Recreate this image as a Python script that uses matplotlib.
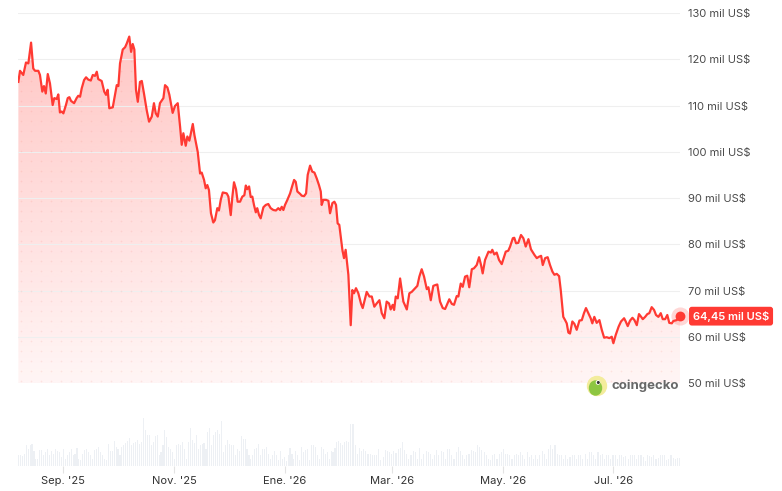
import datetime as dt
import numpy as np
import matplotlib
matplotlib.use('Agg')
import matplotlib.pyplot as plt
import matplotlib.dates as mdates
from matplotlib.patches import Circle, Ellipse

plt.rcParams['font.family'] = ['Inter', 'DejaVu Sans']

# datos (dias desde el 7 ago 2025, precio en miles de US$)
inicio = dt.datetime(2025, 8, 7)
dias = [0.2, 1.1, 2.9, 4.4, 5.7, 7.2, 8.4, 9.4, 11.2, 12.1, 13.4, 14.3, 15.3, 16.4, 17.6,
        19.1, 20.0, 21.3, 22.2, 23.1, 24.1, 25.0, 26.4, 27.4, 28.3, 29.2, 30.9, 32.3, 33.2,
        34.2, 35.1, 36.4, 37.5, 38.7, 40.1, 41.2, 42.4, 43.4, 44.2, 46.1, 47.5, 48.5, 49.4,
        50.3, 52.2, 53.1, 54.4, 55.3, 56.2, 57.7, 59.0, 59.9, 61.3, 62.3, 63.2, 64.1, 65.0,
        66.0, 67.2, 68.2, 69.4, 70.9, 72.2, 73.7, 74.9, 75.9, 77.0, 78.2, 80.1, 81.0, 82.3,
        83.4, 85.2, 86.5, 88.0, 89.3, 90.2, 91.1, 92.4, 93.3, 94.4, 96.3, 97.2, 99.0, 100.3,
        101.2, 102.5, 103.4, 104.3, 105.2, 106.3, 107.6, 108.5, 109.8, 110.7, 111.7, 112.8,
        115.0, 115.9, 117.2, 118.1, 119.0, 120.1, 121.0, 122.3, 123.6, 124.7, 125.5, 126.3,
        127.3, 128.2, 129.1, 130.0, 131.0, 131.8, 132.8, 133.7, 135.2, 136.5, 137.9, 139.2,
        140.7, 142.1, 143.4, 144.4, 145.3, 146.2, 147.1, 148.4, 149.9, 151.0, 152.1, 153.0,
        153.9, 155.4, 156.3, 157.6, 158.7, 159.6, 160.9, 162.1, 163.3, 164.6, 165.8, 166.8,
        167.3, 168.2, 169.7, 171.0, 171.9, 173.2, 174.3, 175.2, 176.1, 177.0, 178.7, 179.6,
        180.5, 182.0, 183.3, 184.2, 185.1, 186.2, 187.5, 189.0, 189.9, 192.1, 193.6, 194.9,
        196.3, 197.6, 199.1, 200.4, 201.8, 203.1, 204.4, 205.3, 206.4, 207.2, 208.1, 209.2,
        210.5, 211.4, 212.3, 214.2, 215.6, 216.9, 218.3, 220.0, 221.1, 222.4, 223.7, 225.2,
        226.1, 227.4, 228.8, 230.1, 231.0, 232.5, 234.0, 235.3, 236.5, 237.6, 239.0, 240.2,
        241.7, 242.6, 243.9, 245.0, 246.3, 247.5, 248.6, 250.0, 251.2, 252.7, 254.0, 255.1,
        256.0, 257.3, 259.2, 260.5, 261.3, 262.4, 263.7, 265.0, 266.5, 267.8, 268.7, 270.1,
        271.1, 272.6, 273.4, 274.4, 275.6, 277.1, 278.4, 279.7, 281.2, 282.6, 284.5, 285.8,
        287.0, 288.2, 289.1, 290.4, 291.8, 293.1, 294.4, 295.5, 296.8, 298.1, 299.0, 300.4,
        301.4, 302.3, 303.2, 304.1, 305.4, 306.5, 307.8, 309.3, 310.6, 311.8, 312.9, 314.2,
        315.5, 316.4, 317.5, 318.8, 320.3, 321.6, 322.9, 324.3, 325.8, 327.1, 328.0, 329.3,
        330.9, 332.2, 333.9, 334.8, 335.9, 337.2, 338.5, 339.6, 340.9, 342.1, 343.3, 344.2,
        345.5, 346.7, 347.8, 349.1, 350.4, 351.5, 352.8, 354.1, 355.2, 356.5, 357.7, 358.8,
        360.2, 361.0, 362.9, 364.7]
precio = [115.1, 117.5, 116.6, 119.3, 119.1, 123.6, 118.0, 117.5, 117.5, 116.6, 113.0, 114.2,
          112.6, 116.8, 114.8, 110.1, 111.6, 111.4, 112.4, 108.5, 108.7, 108.3, 110.1, 111.6,
          111.8, 111.0, 110.5, 111.6, 112.1, 111.9, 113.7, 115.5, 116.1, 115.6, 115.4, 116.6,
          116.4, 117.3, 115.7, 115.3, 113.0, 112.3, 113.4, 109.4, 109.6, 111.6, 114.4, 114.2,
          119.1, 122.1, 122.6, 123.4, 124.9, 121.6, 123.3, 122.1, 113.4, 110.8, 115.1, 115.3,
          112.6, 109.0, 106.5, 107.6, 110.5, 108.3, 107.6, 110.5, 111.6, 114.4, 113.9, 112.3,
          108.4, 109.9, 110.5, 105.4, 101.5, 104.0, 101.3, 103.3, 102.4, 106.0, 103.6, 100.0,
          95.3, 95.5, 93.9, 92.1, 92.8, 91.7, 86.7, 84.7, 85.2, 87.8, 87.3, 89.6, 91.2, 91.0,
          90.3, 86.3, 90.3, 93.4, 91.9, 89.2, 89.2, 90.3, 90.6, 92.7, 91.9, 92.5, 90.2, 90.3,
          88.5, 86.9, 87.8, 86.3, 85.6, 88.0, 88.5, 88.7, 87.8, 87.4, 87.3, 87.8, 87.4, 88.1,
          87.4, 88.5, 89.6, 91.0, 92.5, 93.9, 93.5, 91.4, 90.9, 90.5, 90.4, 91.0, 95.0, 97.0,
          95.7, 95.5, 94.2, 92.8, 91.4, 88.5, 89.6, 89.6, 89.4, 86.7, 88.9, 89.2, 88.5, 84.5,
          84.2, 78.8, 77.0, 78.8, 73.4, 62.5, 70.1, 69.4, 70.5, 69.4, 67.1, 66.2, 69.7, 68.7,
          68.7, 66.5, 67.2, 67.9, 65.1, 64.0, 67.6, 67.2, 65.9, 66.9, 65.8, 68.7, 68.3, 72.6,
          70.1, 67.6, 65.9, 69.4, 69.7, 70.3, 71.0, 73.0, 74.6, 73.0, 70.3, 70.7, 67.9, 71.0,
          71.2, 71.3, 67.6, 66.2, 66.0, 67.1, 68.1, 67.1, 66.9, 68.8, 68.7, 71.5, 70.8, 73.0,
          73.2, 70.7, 74.6, 74.8, 75.5, 77.2, 75.5, 73.7, 76.6, 78.4, 78.2, 78.8, 77.8, 78.2,
          76.6, 75.7, 77.3, 78.4, 78.6, 79.5, 81.3, 81.4, 80.2, 80.3, 82.0, 81.3, 79.5, 81.1,
          78.9, 77.7, 77.0, 77.3, 77.5, 75.5, 77.0, 77.2, 75.5, 74.1, 73.4, 73.6, 73.1, 70.1,
          64.3, 63.6, 62.9, 60.9, 60.7, 63.3, 62.8, 61.5, 63.5, 63.6, 65.1, 66.2, 65.1, 64.0,
          62.9, 64.3, 63.0, 63.6, 61.5, 59.8, 59.9, 59.7, 60.0, 58.6, 60.4, 62.2, 63.3, 64.0,
          63.3, 62.3, 63.5, 64.1, 63.6, 62.5, 64.9, 64.3, 63.8, 64.3, 64.9, 65.1, 66.4, 65.8,
          64.7, 64.3, 65.1, 63.8, 63.8, 64.7, 63.0, 62.9, 63.4, 63.6, 64.45]

# volumen (miles de millones US$), primera y segunda mitad del periodo
vol_a = [32, 34, 30, 37, 62, 52, 64, 67, 44, 22, 22, 47, 47, 32, 42, 50, 34, 44, 37, 52, 44, 42,
         27, 50, 22, 32, 42, 50, 32, 37, 54, 22, 17, 37, 47, 52, 42, 32, 22, 47, 52, 57, 42, 32,
         22, 17, 67, 44, 44, 74, 57, 52, 32, 57, 62, 70, 74, 84, 62, 70, 72, 77, 67, 72, 144, 107,
         94, 92, 62, 72, 90, 94, 32, 42, 62, 107, 87, 57, 50, 42, 22, 62, 67, 64, 72, 52, 22, 72,
         114, 77, 70, 94, 52, 62, 67, 70, 52, 102, 114, 62, 94, 102, 107, 97, 134, 42, 62, 77, 67,
         64, 62, 32, 52, 44, 90, 82, 82, 52, 32, 22, 32, 52, 54, 67, 34, 52, 52, 57, 37, 22, 32,
         44, 32, 17, 44, 22, 27, 14, 32, 54, 37, 22, 44, 32, 17, 57, 42, 47, 52, 17, 62, 62, 57,
         34, 22, 57, 52, 37, 42, 22, 44, 42, 54, 72, 74, 70, 64, 72]
vol_b = [74, 72, 127, 127, 64, 37, 54, 44, 52, 44, 37, 37, 34, 32, 32, 50, 17, 27, 47, 44, 42, 37,
         44, 40, 52, 54, 72, 47, 37, 22, 32, 44, 42, 22, 54, 22, 37, 44, 42, 37, 22, 32, 47, 32,
         44, 42, 22, 52, 50, 32, 22, 42, 57, 44, 34, 22, 32, 37, 47, 44, 42, 62, 57, 47, 42, 34,
         22, 17, 32, 37, 22, 37, 42, 52, 37, 37, 32, 22, 32, 37, 32, 42, 32, 22, 42, 27, 32, 22,
         32, 22, 34, 44, 37, 22, 50, 62, 52, 62, 37, 32, 32, 22, 32, 22, 27, 32, 34, 22, 32, 32,
         22, 37, 22, 42, 42, 32, 22, 42, 34, 37, 22, 32, 34, 22, 34, 32, 22, 34, 32, 27, 30, 22,
         32, 32, 32, 22, 34, 32, 27, 14, 32, 30, 27, 32, 22, 24, 32, 32, 32, 17, 22, 32, 24, 22,
         24, 24]

meses = [dt.datetime(2025, 9, 1), dt.datetime(2025, 11, 1), dt.datetime(2026, 1, 1),
         dt.datetime(2026, 3, 1), dt.datetime(2026, 5, 1), dt.datetime(2026, 7, 1)]
etiquetas_meses = ["Sep. '25", "Nov. '25", "Ene. '26", "Mar. '26", "May. '26", "Jul. '26"]
niveles = [50, 60, 70, 80, 90, 100, 110, 120, 130]
etiquetas_niveles = [f'{n} mil US$' for n in niveles]
ultimo = '64,45 mil US$'

rojo = '#ff3a33'
W, H = 782, 491
t0 = mdates.date2num(inicio)
x = t0 + np.array(dias)
xmin, xmax = t0, t0 + 364.7

fig = plt.figure(figsize=(W / 100, H / 100), dpi=100)
ax = fig.add_axes([18 / W, 108 / H, 662 / W, 370 / H])

# relleno con degradado
poly = ax.fill_between(x, precio, 50, facecolor='none', edgecolor='none')
camino = poly.get_paths()[0]
grad = np.zeros((256, 1, 4))
grad[..., :3] = matplotlib.colors.to_rgb(rojo)
grad[..., 3] = np.linspace(0.30, 0.05, 256).reshape(-1, 1)
im = ax.imshow(grad, extent=[xmin, xmax, 50, 130], aspect='auto', origin='upper', zorder=1)
im.set_clip_path(camino, transform=ax.transData)

# trama de puntos
xs = np.arange(xmin + 1.5, xmax, 10 / 1.815)
ys = np.arange(50.5, 130, 10 / 4.625)
XX, YY = np.meshgrid(xs, ys)
pts = ax.scatter(XX.ravel(), YY.ravel(), s=1.5, color=rojo, alpha=0.10, lw=0, zorder=2)
pts.set_clip_path(camino, transform=ax.transData)

ax.plot(x, precio, color=rojo, lw=1.6, zorder=4, solid_joinstyle='round')
ax.scatter(x[-1], precio[-1], s=170, color=rojo, alpha=0.2, lw=0, zorder=5, clip_on=False)
ax.scatter(x[-1], precio[-1], s=50, color=rojo, lw=0, zorder=6, clip_on=False)

ax.set_xlim(xmin, xmax)
ax.set_ylim(50, 130)
ax.set_yticks(niveles)
ax.set_yticklabels(etiquetas_niveles)
ax.yaxis.tick_right()
ax.tick_params(axis='y', length=0, pad=6, labelsize=8, labelcolor='#4a4a4a')
ax.set_xticks([])
ax.grid(axis='y', color='#efefef', lw=0.8, zorder=0)
ax.get_ygridlines()[0].set_linestyle((0, (1.5, 2)))
for s in ax.spines.values():
    s.set_visible(False)

ax.annotate(ultimo, xy=(1, precio[-1]), xycoords=('axes fraction', 'data'),
            xytext=(9.3, 0), textcoords='offset points', ha='left', va='center',
            color='white', fontsize=8, fontweight='semibold', annotation_clip=False,
            bbox=dict(boxstyle='round,pad=0.35,rounding_size=0.25', fc=rojo, ec='none'))

# volumen
axv = fig.add_axes([18 / W, 25 / H, 662 / W, 56 / H])
xa = t0 + np.linspace(0.2, 180.0, len(vol_a))
xb = t0 + np.linspace(181.0, 364.5, len(vol_b))
axv.bar(xa, vol_a, width=0.6, color='#edf0f4', lw=0)
axv.bar(xb, vol_b, width=0.6, color='#edf0f4', lw=0)
axv.set_xlim(xmin, xmax)
axv.set_ylim(0, 168)
axv.set_yticks([])
axv.set_xticks([mdates.date2num(m) for m in meses])
axv.set_xticklabels(etiquetas_meses)
axv.tick_params(axis='x', length=5, color='#e3e3e3', labelsize=8, labelcolor='#333333', pad=2)
for s in axv.spines.values():
    s.set_visible(False)

# logo coingecko
capa = fig.add_axes([0, 0, 1, 1], zorder=10)
capa.set_xlim(0, W)
capa.set_ylim(H, 0)
capa.axis('off')
capa.add_patch(Circle((597, 386), 9.5, color='#f3ec9c'))
capa.add_patch(Ellipse((595.5, 388), 12, 14, color='#8dc641'))
capa.add_patch(Circle((598, 382.5), 1.6, color='white'))
capa.add_patch(Circle((598.3, 382.5), 0.8, color='#333333'))
capa.text(612, 386, 'coingecko', fontsize=9.5, fontweight='bold', color='#686868', va='center')

fig.savefig('out.png', dpi=100)
